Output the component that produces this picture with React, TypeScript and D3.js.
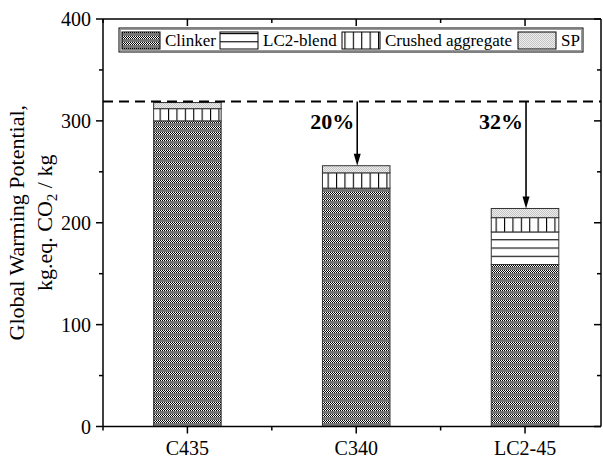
import React from "react";
import * as d3 from "d3";

const categories = ["C435", "C340", "LC2-45"];
const clinker = [300, 234, 159];
const lc2Blend = [0, 0, 32];
const crushedAggregate = [12, 15, 14];
const sp = [6, 7, 9];
const referenceValue = 319;
const reductionLabels = ["", "20%", "32%"];
const yTicks = [0, 100, 200, 300, 400];
const yMinorTicks = [50, 150, 250, 350];
const seriesNames = ["Clinker", "LC2-blend", "Crushed aggregate", "SP"];

const W = 603;
const H = 459;
const left = 103;
const right = 601;
const top = 19;
const bottom = 426.5;
const FONT = "'Liberation Serif', 'Times New Roman', serif";

export default function App() {
  const x = d3.scaleLinear().domain([-0.5, 2.45]).range([left, right]);
  const y = d3.scaleLinear().domain([0, 400]).range([bottom, top]);
  const barW = 0.4 * (x(1) - x(0));

  const rows = categories.map((c, i) => ({
    cat: c,
    Clinker: clinker[i],
    "LC2-blend": lc2Blend[i],
    "Crushed aggregate": crushedAggregate[i],
    SP: sp[i],
  }));
  const stack = d3.stack<any>().keys(seriesNames);
  const stacked = stack(rows);
  const fills = ["url(#pClinker)", "url(#pLC2)", "url(#pCrushed)", "url(#pSP)"];

  const totals = rows.map((r, i) => clinker[i] + lc2Blend[i] + crushedAggregate[i] + sp[i]);

  const legendItems = [
    { name: "Clinker", sx: 122, tx: 165 },
    { name: "LC2-blend", sx: 220, tx: 263 },
    { name: "Crushed aggregate", sx: 342, tx: 385 },
    { name: "SP", sx: 518, tx: 561 },
  ];

  return (
    <svg width={W} height={H} style={{ position: "absolute", left: 0, top: 0, background: "#fff" }} fontFamily={FONT}>
      <defs>
        <pattern id="pClinker" patternUnits="userSpaceOnUse" width={2} height={6}>
          <rect x={0} y={0} width={2} height={6} fill="#767676" />
          <rect x={0} y={0} width={2} height={3} fill="#fff" />
          <rect x={0} y={0} width={1} height={1} fill="#000" />
          <rect x={1} y={1} width={1} height={1} fill="#000" />
          <rect x={0} y={2} width={1} height={1} fill="#000" />
        </pattern>
        <pattern id="pLC2" patternUnits="userSpaceOnUse" width={8} height={8.25} y={0}>
          <rect x={0} y={0} width={8} height={8.25} fill="#fff" />
          <line x1={0} x2={8} y1={0.5} y2={0.5} stroke="#000" strokeWidth={1.2} />
        </pattern>
        <pattern id="pCrushed" patternUnits="userSpaceOnUse" width={8.4} height={8}>
          <rect x={0} y={0} width={8.4} height={8} fill="#fff" />
          <line x1={0.5} x2={0.5} y1={0} y2={8} stroke="#000" strokeWidth={1.2} />
        </pattern>
        <pattern id="pSP" patternUnits="userSpaceOnUse" width={2} height={2}>
          <rect x={0} y={0} width={2} height={2} fill="#eeeeee" />
          <rect x={0} y={0} width={1} height={1} fill="#c4c4c4" />
          <rect x={1} y={1} width={1} height={1} fill="#c4c4c4" />
        </pattern>
      </defs>

      {/* bars */}
      {stacked.map((s, si) =>
        s.map((d, i) => {
          const h = y(d[0]) - y(d[1]);
          if (h <= 0) return null;
          const cx = x(i);
          return (
            <rect
              key={si + "-" + i}
              x={cx - barW / 2}
              y={y(d[1])}
              width={barW}
              height={h}
              fill={fills[si]}
              stroke="#333"
              strokeWidth={1}
            />
          );
        })
      )}

      {/* reference dashed line */}
      <line
        x1={left}
        x2={right}
        y1={y(referenceValue)}
        y2={y(referenceValue)}
        stroke="#000"
        strokeWidth={2}
        strokeDasharray="10 6"
      />

      {/* arrows */}
      {reductionLabels.map((lab, i) => {
        if (!lab) return null;
        const cx = x(i) + 1;
        const y0 = y(referenceValue);
        const y1 = y(totals[i]);
        return (
          <g key={"arr" + i}>
            <line x1={cx} x2={cx} y1={y0} y2={y1 - 10} stroke="#000" strokeWidth={1.6} />
            <path d={`M${cx - 3.5},${y1 - 12} L${cx + 3.5},${y1 - 12} L${cx},${y1} Z`} fill="#000" />
            <text x={cx - 3} y={129} textAnchor="end" fontSize={22} fontWeight="bold">
              {lab}
            </text>
          </g>
        );
      })}

      {/* axes frame */}
      <line x1={left} x2={left} y1={top} y2={bottom} stroke="#000" strokeWidth={1.5} />
      <line x1={right} x2={right} y1={top} y2={bottom} stroke="#000" strokeWidth={1.5} />
      <line x1={left} x2={right} y1={top} y2={top} stroke="#000" strokeWidth={1.5} />
      <line x1={left} x2={right} y1={bottom} y2={bottom} stroke="#000" strokeWidth={1.5} />

      {/* y ticks */}
      {yTicks.map((t) => (
        <g key={"yt" + t}>
          <line x1={left - 7} x2={left} y1={y(t)} y2={y(t)} stroke="#000" strokeWidth={1.5} />
          <line x1={right - 7} x2={right} y1={y(t)} y2={y(t)} stroke="#000" strokeWidth={1.5} />
          <text x={91} y={y(t) + 7} textAnchor="end" fontSize={20}>
            {t}
          </text>
        </g>
      ))}
      {yMinorTicks.map((t) => (
        <g key={"ym" + t}>
          <line x1={left - 4} x2={left} y1={y(t)} y2={y(t)} stroke="#000" strokeWidth={1.5} />
          <line x1={right - 4} x2={right} y1={y(t)} y2={y(t)} stroke="#000" strokeWidth={1.5} />
        </g>
      ))}

      {/* x ticks */}
      {categories.map((c, i) => (
        <g key={"xt" + c}>
          <line x1={x(i)} x2={x(i)} y1={bottom} y2={bottom + 7} stroke="#000" strokeWidth={1.5} />
          <line x1={x(i)} x2={x(i)} y1={top} y2={top + 7} stroke="#000" strokeWidth={1.5} />
          <text x={x(i)} y={455} textAnchor="middle" fontSize={20}>
            {c}
          </text>
        </g>
      ))}
      {[-0.5, 0.5, 1.5].map((t) => (
        <g key={"xm" + t}>
          <line x1={x(t)} x2={x(t)} y1={bottom} y2={bottom + 4} stroke="#000" strokeWidth={1.5} />
          <line x1={x(t)} x2={x(t)} y1={top} y2={top + 4} stroke="#000" strokeWidth={1.5} />
        </g>
      ))}

      {/* y-axis title */}
      <g transform={`translate(0, ${(top + bottom) / 2}) rotate(-90)`}>
        <text x={0} y={24} textAnchor="middle" fontSize={22}>
          Global Warming Potential,
        </text>
        <text x={0} y={52} textAnchor="middle" fontSize={22}>
          kg.eq. CO
          <tspan fontSize={15} dy={5}>2</tspan>
          <tspan dy={-5}> / kg</tspan>
        </text>
      </g>

      {/* legend */}
      <rect x={119} y={28} width={464} height={24} fill="#fff" stroke="#000" strokeWidth={1} />
      <rect x={120.5} y={29.5} width={461} height={21} fill="none" stroke="#999" strokeWidth={1} />
      {legendItems.map((it, i) => (
        <g key={"lg" + it.name}>
          <rect x={it.sx} y={32} width={38} height={17} fill={fills[i]} stroke="#000" strokeWidth={1} />
          <text x={it.tx} y={46} fontSize={17}>
            {it.name}
          </text>
        </g>
      ))}
    </svg>
  );
}
